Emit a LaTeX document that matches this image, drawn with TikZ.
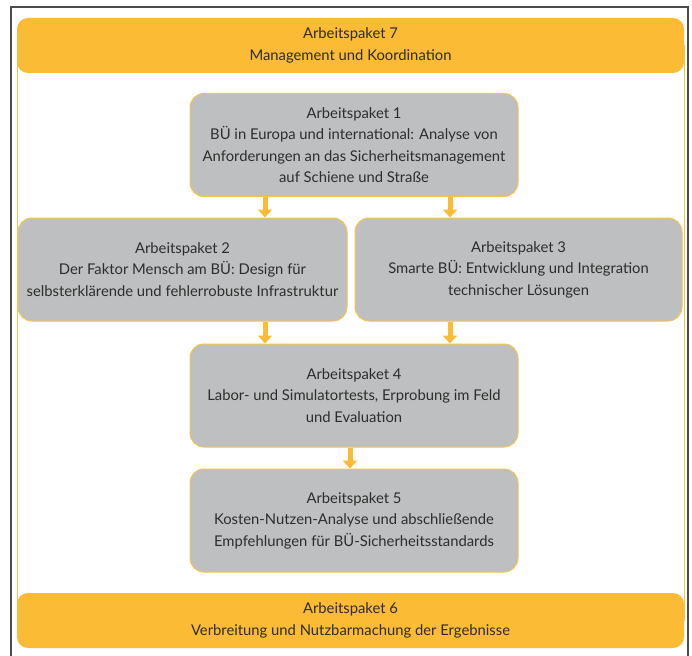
\documentclass[tikz,border=0pt]{standalone}
\usepackage{fontspec}
\setmainfont{Lato}
\usetikzlibrary{arrows.meta}
\definecolor{apgelb}{RGB}{251,187,52}
\definecolor{apgrau}{RGB}{190,191,192}
\definecolor{aprand}{RGB}{246,196,74}
\definecolor{aptext}{RGB}{45,45,45}

\begin{document}
\begin{tikzpicture}[x=1pt,y=-1pt,
 font=\fontsize{14.8}{21.5}\selectfont, text=aptext,
 bar/.style={fill=apgelb, rounded corners=11pt, minimum width=667pt,
  minimum height=55pt, align=center, inner sep=0pt},
 ap/.style={fill=apgrau, draw=aprand, line width=1pt, rounded corners=14pt,
  minimum width=328pt, minimum height=103pt, align=center, inner sep=0pt},
 pfeil/.style={draw=apgelb, line width=5pt, -{Triangle[width=14pt,length=8pt]}}]
 \useasboundingbox (0,0) rectangle (692,655);
 % Rahmen
 \draw[black!70, line width=1.3pt] (11,656) -- (11,7) -- (688,7) -- (688,656);
 \draw[aprand, line width=0.8pt] (17,45) rectangle (684,620);
 \node[bar] (ap7) at (350.5,45.5) {Arbeitspaket 7\\Management und Koordination};
 \node[bar] (ap6) at (350.5,620.5) {Arbeitspaket 6\\Verbreitung und Nutzbarmachung der Ergebnisse};
 \node[ap] (ap1) at (354,145) {Arbeitspaket 1\\BÜ in Europa und international: Analyse von\\
  Anforderungen an das Sicherheitsmanagement\\auf Schiene und Straße};
 \node[ap, minimum width=329pt] (ap2) at (182.5,269.5) {Arbeitspaket 2\\
  Der Faktor Mensch am BÜ: Design für\\selbsterklärende und fehlerrobuste Infrastruktur};
 \node[ap, minimum width=327pt] (ap3) at (518.5,269.5) {Arbeitspaket 3\\
  Smarte BÜ: Entwicklung und Integration\\technischer Lösungen};
 \node[ap] (ap4) at (354,395.5) {Arbeitspaket 4\\Labor- und Simulatortests, Erprobung im Feld\\und Evaluation};
 \node[ap] (ap5) at (354,520.5) {Arbeitspaket 5\\Kosten-Nutzen-Analyse und abschließende\\
  Empfehlungen für BÜ-Sicherheitsstandards};
 % Pfeile
 \coordinate (l) at (265,0);
 \coordinate (r) at (450,0);
 \coordinate (m) at (350,0);
 \draw[pfeil] (ap1.south -| l) -- (ap2.north -| l);
 \draw[pfeil] (ap1.south -| r) -- (ap3.north -| r);
 \draw[pfeil] (ap2.south -| l) -- (ap4.north -| l);
 \draw[pfeil] (ap3.south -| r) -- (ap4.north -| r);
 \draw[pfeil] (ap4.south -| m) -- (ap5.north -| m);
\end{tikzpicture}
\end{document}
